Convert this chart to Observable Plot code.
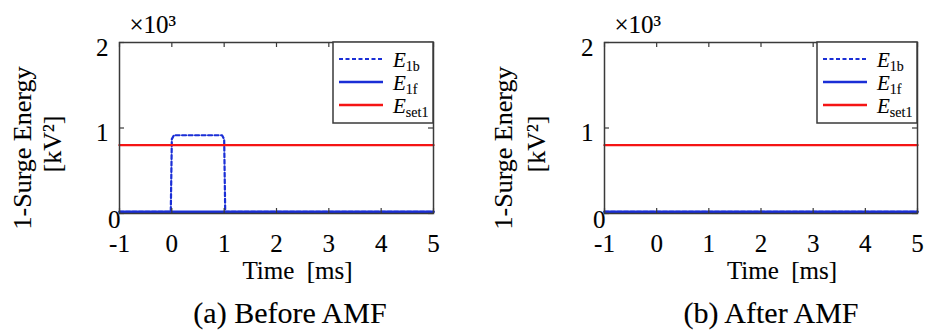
<!DOCTYPE html>
<html><head><meta charset="utf-8">
<script src="https://cdn.jsdelivr.net/npm/d3@7"></script>
<script src="https://cdn.jsdelivr.net/npm/@observablehq/plot@0.6"></script>
<style>
body{margin:0;background:#fff;font-family:"Liberation Serif","Times New Roman",serif;}
#wrap{position:relative;width:927px;height:335px;overflow:hidden;background:#fff}
.panel{position:absolute;top:0;height:290px}
.panel svg, .panel svg text{font-family:"Liberation Serif","Times New Roman",serif !important;}
.panel svg text{stroke:#000;stroke-width:0.12px;}
.cap{position:absolute;top:298px;font-size:30px;line-height:30px;white-space:nowrap;transform:translateX(-50%);color:#000;font-family:"Liberation Serif",serif;-webkit-text-stroke:0.12px #000}
</style></head><body><div id="wrap"></div>
<script>
// ---- data ----
const xTicks = [-1, 0, 1, 2, 3, 4, 5];
const yTicks = [0, 1000, 2000];
const seriesSubs = ["1b", "1f", "set1"];
const seriesColors = ["#1a2ed6", "#1a2ed6", "#f51414"];
const seriesDash = ["4,2.5", null, null];
const seriesWidths = [2.2, 2.5, 2.4];
const captions = ["(a) Before AMF", "(b) After AMF"];
const xLabel = "Time\u00a0 [ms]";
const yLabel1 = "1-Surge Energy";
const yLabel2 = "[kV\u00b2]";
const expLabel = "\u00d710\u00b3";

// panel (a) Before AMF
const tA_E1b = [-1, -0.02, 0, 0.04, 0.96, 1.0, 1.02, 5];
const vA_E1b = [20, 20, 870, 915, 915, 870, 20, 20];
const tA_E1f = [-1, 5];
const vA_E1f = [20, 20];
const tA_Eset1 = [-1, 5];
const vA_Eset1 = [800, 800];
// panel (b) After AMF
const tB_E1b = [-1, 5];
const vB_E1b = [20, 20];
const tB_E1f = [-1, 5];
const vB_E1f = [20, 20];
const tB_Eset1 = [-1, 5];
const vB_Eset1 = [800, 800];

const panelsData = [
  [[tA_E1b, vA_E1b], [tA_E1f, vA_E1f], [tA_Eset1, vA_Eset1]],
  [[tB_E1b, vB_E1b], [tB_E1f, vB_E1f], [tB_Eset1, vB_Eset1]]
];

// ---- layout ----
const H = 290;
const layouts = [
  {left: 0, width: 463, ml: 119, mr: 30, capX: 290, yl1: -97, yl2: -67},
  {left: 463, width: 464, ml: 141, mr: 10, capX: 771, yl1: -101, yl2: -68}
];
const MT = 42, MB = 77;
const axisColor = "#3a3a3a";
const FONT = '"Liberation Serif", "Times New Roman", serif';

const wrap = document.getElementById("wrap");

layouts.forEach((L, p) => {
  const fw = L.width - L.ml - L.mr;
  const fh = H - MT - MB;
  const series = panelsData[p].map(([t, v], i) => t.map((tt, j) => ({t: tt, v: v[j], s: i})));

  const legend = () => {
    const g = d3.create("svg:g");
    const bx = L.width - L.mr - 100, by = MT, bw = 100, bh = 81;
    g.append("rect").attr("x", bx).attr("y", by).attr("width", bw).attr("height", bh)
      .attr("fill", "#fff").attr("stroke", axisColor).attr("stroke-width", 1.5);
    seriesSubs.forEach((sub, i) => {
      const ly = by + 17 + i * 23;
      g.append("line").attr("x1", bx + 6).attr("x2", bx + 50).attr("y1", ly).attr("y2", ly)
        .attr("stroke", seriesColors[i]).attr("stroke-width", seriesWidths[i])
        .attr("stroke-dasharray", seriesDash[i]);
      const tx = g.append("text").attr("x", bx + 60).attr("y", ly + 8)
        .attr("text-anchor", "start")
        .attr("font-family", FONT).attr("fill", "#000");
      tx.append("tspan").attr("font-style", "italic").attr("font-size", 21).text("E");
      tx.append("tspan").attr("font-size", 14).attr("dy", 4).text(sub);
    });
    return g.node();
  };

  const chart = Plot.plot({
    width: L.width,
    height: H,
    marginLeft: L.ml,
    marginRight: L.mr,
    marginTop: MT,
    marginBottom: MB,
    style: {"font-family": FONT, "font-size": "25px", color: "#000", background: "#fff", overflow: "visible"},
    x: {domain: [-1, 5]},
    y: {domain: [0, 2000]},
    marks: [
      ...series.map((d, i) => Plot.line(d, {
        x: "t", y: "v", stroke: seriesColors[i], strokeWidth: seriesWidths[i],
        strokeDasharray: seriesDash[i] ?? undefined, curve: "linear"
      })),
      Plot.tickX(xTicks, {x: d => d, insetTop: fh - 5, stroke: axisColor, strokeWidth: 1.2}),
      Plot.tickX(xTicks, {x: d => d, insetBottom: fh - 5, stroke: axisColor, strokeWidth: 1.2}),
      Plot.tickY(yTicks, {y: d => d, insetRight: fw - 5, stroke: axisColor, strokeWidth: 1.2}),
      Plot.tickY(yTicks, {y: d => d, insetLeft: fw - 5, stroke: axisColor, strokeWidth: 1.2}),
      Plot.frame({stroke: axisColor, strokeWidth: 1.5}),
      Plot.axisX({ticks: xTicks, tickSize: 0, tickPadding: 21, tickFormat: d => String(d), fontSize: 25, fontFamily: FONT, label: null}),
      Plot.axisY({ticks: yTicks.filter(d => d > 0), tickSize: 0, tickPadding: 11, dy: 5, tickFormat: d => String(d / 1000), fontSize: 25, fontFamily: FONT, label: null}),
      Plot.axisY({ticks: yTicks.filter(d => d === 0), tickSize: 0, tickPadding: 0, dx: 1, dy: 6, tickFormat: d => String(d / 1000), fontSize: 25, fontFamily: FONT, label: null}),
      Plot.text([xLabel], {text: d => d, frameAnchor: "bottom", textAnchor: "middle", lineAnchor: "bottom", dy: 65, dx: 21, fontSize: 25, fontFamily: FONT}),
      Plot.text([yLabel1], {text: d => d, frameAnchor: "left", textAnchor: "middle", rotate: -90, dx: L.yl1, dy: 20, fontSize: 26, fontFamily: FONT}),
      Plot.text([yLabel2], {text: d => d, frameAnchor: "left", textAnchor: "middle", rotate: -90, dx: L.yl2, dy: 16, fontSize: 26, fontFamily: FONT}),
      Plot.text([expLabel], {text: d => d, frameAnchor: "top-left", textAnchor: "start", lineAnchor: "bottom", dx: 10, dy: -10, fontSize: 25, fontFamily: FONT}),
      legend
    ]
  });
  d3.select(chart).selectAll("text").style("font-family", FONT);

  const div = document.createElement("div");
  div.className = "panel";
  div.style.left = L.left + "px";
  div.style.width = L.width + "px";
  div.appendChild(chart);
  wrap.appendChild(div);

  const cap = document.createElement("div");
  cap.className = "cap";
  cap.style.left = L.capX + "px";
  cap.textContent = captions[p];
  wrap.appendChild(cap);
});
</script>
</body></html>
